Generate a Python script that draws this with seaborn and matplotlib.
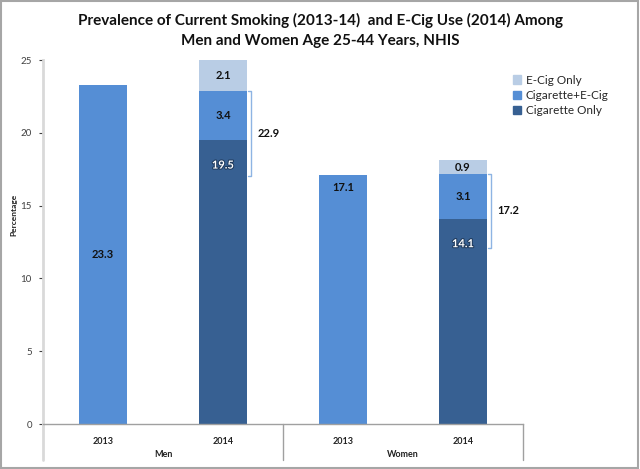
# -*- coding: utf-8 -*-
import pandas as pd
import numpy as np
import matplotlib
matplotlib.use('Agg')
import matplotlib.pyplot as plt
import matplotlib.patheffects as pe
from matplotlib.patches import Patch, Rectangle
import seaborn as sns

# dados
categorias = ['Men 2013', 'Men 2014', 'Women 2013', 'Women 2014']
anos = ['2013', '2014', '2013', '2014']
grupos = ['Men', 'Women']
fumo_2013 = [23.3, 17.1]          # Men, Women (2013)
cig_only = [19.5, 14.1]           # 2014
cig_ecig = [3.4, 3.1]             # 2014
ecig_only = [2.1, 0.9]            # 2014
total_cig = [22.9, 17.2]          # anotacao (chaves)
chave_base = [17.0, 12.1]

sns.set_style('white')
plt.rcParams['font.family'] = ['Lato', 'DejaVu Sans']

c_ecig = '#b9cde5'
c_mix = '#558ed5'
c_cig = '#376092'

fig = plt.figure(figsize=(6.4, 4.69), dpi=100)
ax = fig.add_axes([43/640, 1-424/469, 480/640, 364/469])

# camadas empilhadas (de tras para frente)
cum1 = np.array(cig_only)
cum2 = cum1 + np.array(cig_ecig)
cum3 = cum2 + np.array(ecig_only)
cat14 = ['Men 2014', 'Women 2014']
cat13 = ['Men 2013', 'Women 2013']

sns.barplot(x=cat14, y=cum3, order=categorias, color=c_ecig, width=0.4,
            saturation=1, linewidth=0, ax=ax)
sns.barplot(x=cat14, y=cum2, order=categorias, color=c_mix, width=0.4,
            saturation=1, linewidth=0, ax=ax)
sns.barplot(x=cat14, y=cum1, order=categorias, color=c_cig, width=0.4,
            saturation=1, linewidth=0, ax=ax)
sns.barplot(x=cat13, y=fumo_2013, order=categorias, color=c_mix, width=0.4,
            saturation=1, linewidth=0, ax=ax)

ax.set_xlim(-0.5, 3.5)
ax.set_ylim(0, 25)
ax.set_yticks([0, 5, 10, 15, 20, 25])
ax.tick_params(axis='y', labelsize=7, colors='#404040', length=3, width=0.8,
               left=True, pad=5)
ax.set_xticks([])
ax.set_xlabel('')
ax.set_ylabel('')
for s in ['top', 'right']:
    ax.spines[s].set_visible(False)
ax.spines['left'].set_color('#d9d9d9')
ax.spines['left'].set_linewidth(2)
ax.spines['bottom'].set_color('#a0a0a0')
ax.spines['bottom'].set_linewidth(1)

# rotulos das barras
txt = dict(ha='center', va='center', fontsize=8, fontweight='bold', color='#111111')
pos13 = [0, 2]
ax.text(pos13[0], fumo_2013[0] / 2, f'{fumo_2013[0]}', **txt)
ax.annotate(f'{fumo_2013[1]}', (pos13[1], fumo_2013[1]), xytext=(0, -9),
            textcoords='offset points', **txt)
pos14 = [1, 3]
for i, p in enumerate(pos14):
    ax.annotate(f'{cig_only[i]}', (p, cum1[i]), xytext=(0, -18),
                textcoords='offset points', ha='center', va='center',
                fontsize=8, fontweight='bold', color='white',
                path_effects=[pe.withStroke(linewidth=1.5, foreground='#1f3a5c')])
    ax.text(p, (cum1[i] + cum2[i]) / 2, f'{cig_ecig[i]}', **txt)
    ax.text(p, (cum2[i] + cum3[i]) / 2, f'{ecig_only[i]}', **txt)
    # chave
    xb = p + 0.235
    ax.plot([p + 0.205, xb, xb, p + 0.205],
            [total_cig[i], total_cig[i], chave_base[i], chave_base[i]],
            color='#8eb4e3', lw=1, clip_on=False)
    ax.text(xb + 0.05, (total_cig[i] + chave_base[i]) / 2, f'{total_cig[i]}',
            ha='left', va='center', fontsize=8, fontweight='bold', color='#111111')

# eixo categorico em dois niveis
for i, a in enumerate(anos):
    ax.text(i, -0.047, a, transform=ax.get_xaxis_transform(), ha='center',
            va='center', fontsize=6.5, fontweight='bold', color='#222222')
for j, g in enumerate(grupos):
    ax.text(2 * j + 0.5, -0.085, g, transform=ax.get_xaxis_transform(), ha='center',
            va='center', fontsize=6.5, fontweight='bold', color='#222222')
for xs in [1.5, 3.5]:
    ax.plot([xs, xs], [0, -0.099], transform=ax.get_xaxis_transform(),
            color='#a0a0a0', lw=1, clip_on=False)
ax.plot([-0.5, -0.5], [0, -0.099], transform=ax.get_xaxis_transform(),
        color='#d9d9d9', lw=2, clip_on=False)

# legenda
handles = [Patch(color=c_ecig, label='E-Cig Only'),
           Patch(color=c_mix, label='Cigarette+E-Cig'),
           Patch(color=c_cig, label='Cigarette Only')]
fig.legend(handles=handles, loc='upper left', bbox_to_anchor=(508/640, 1-70/469),
           frameon=False, fontsize=8.5, handlelength=0.7, handleheight=0.7,
           handletextpad=0.4, labelspacing=0.35, borderaxespad=0)

# titulos
fig.text(0.5, 1-20/469, 'Prevalence of Current Smoking (2013-14)  and E-Cig Use (2014) Among',
         ha='center', va='center', fontsize=11, fontweight='bold', color='#111111')
fig.text(0.5, 1-41/469, 'Men and Women Age 25-44 Years, NHIS',
         ha='center', va='center', fontsize=11, fontweight='bold', color='#111111')
fig.text(14/640, 1-215/469, 'Percentage', rotation=90, ha='center', va='center',
         fontsize=6, fontweight='bold', color='#222222')

# moldura
fig.patches.append(Rectangle((0.002, 0.003), 0.995, 0.994, transform=fig.transFigure,
                             fill=False, edgecolor='#a6a6a6', lw=1.5))

fig.savefig('out.png', dpi=100)
